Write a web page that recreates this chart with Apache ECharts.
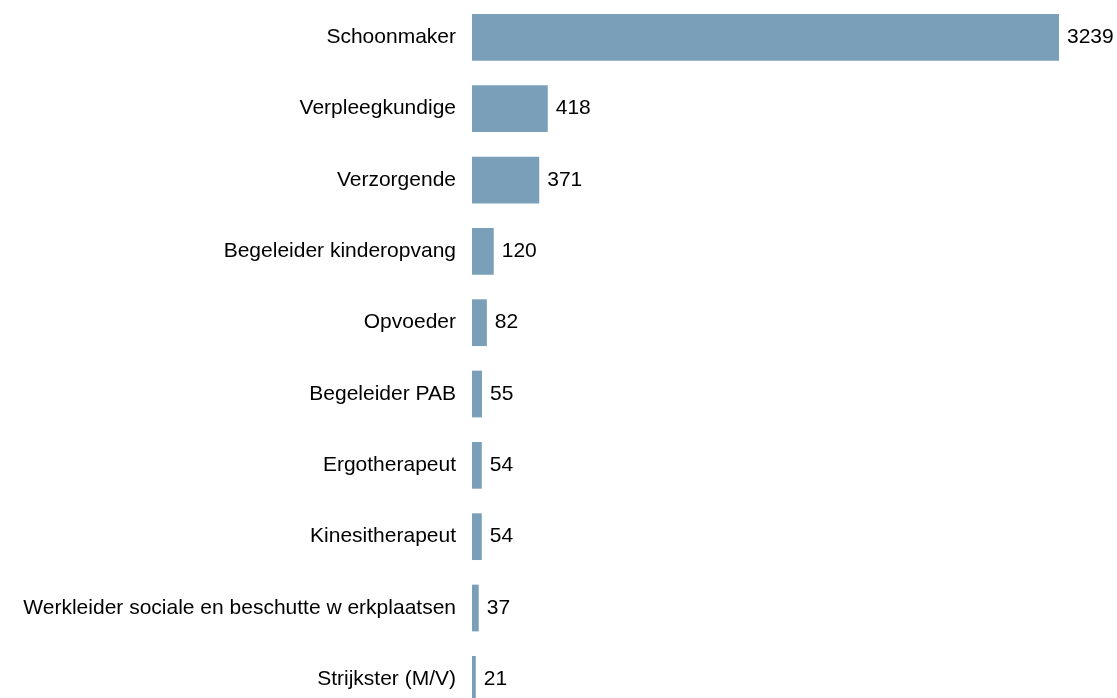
<!DOCTYPE html>
<html>
<head>
<meta charset="utf-8">
<script src="https://cdn.jsdelivr.net/npm/echarts@6/dist/echarts.min.js"></script>
<style>
  html, body { margin: 0; padding: 0; background: #ffffff; }
  #chart { width: 1117px; height: 698px; }
</style>
</head>
<body>
<div id="chart"></div>
<script>
// Occupations and their counts, top to bottom
const occupations = [
  'Schoonmaker',
  'Verpleegkundige',
  'Verzorgende',
  'Begeleider kinderopvang',
  'Opvoeder',
  'Begeleider PAB',
  'Ergotherapeut',
  'Kinesitherapeut',
  'Werkleider sociale en beschutte w erkplaatsen',
  'Strijkster (M/V)'
];
const counts = [3239, 418, 371, 120, 82, 55, 54, 54, 37, 21];

const chart = echarts.init(document.getElementById('chart'), null, { renderer: 'canvas' });

chart.setOption({
  animation: false,
  backgroundColor: '#ffffff',
  // the last row runs past the bottom edge of the canvas
  grid: {
    left: 472, width: 587, top: 1.7, height: 713.3,
    containLabel: false,
    outerBoundsMode: 'none'
  },
  xAxis: {
    type: 'value',
    min: 0,
    max: 3239,
    show: false
  },
  yAxis: {
    type: 'category',
    data: occupations,
    inverse: true,
    axisLine: { show: false },
    axisTick: { show: false },
    axisLabel: {
      margin: 16,
      padding: [4, 0, 0, 0],
      color: '#000000',
      fontFamily: 'Liberation Sans, Arial, sans-serif',
      fontSize: 21
    }
  },
  series: [{
    type: 'bar',
    data: counts,
    barWidth: '65.5%',
    itemStyle: { color: '#7a9fb8' },
    label: {
      show: true,
      position: 'right',
      distance: 8,
      color: '#000000',
      fontFamily: 'Liberation Sans, Arial, sans-serif',
      fontSize: 21
    }
  }]
});
</script>
</body>
</html>
